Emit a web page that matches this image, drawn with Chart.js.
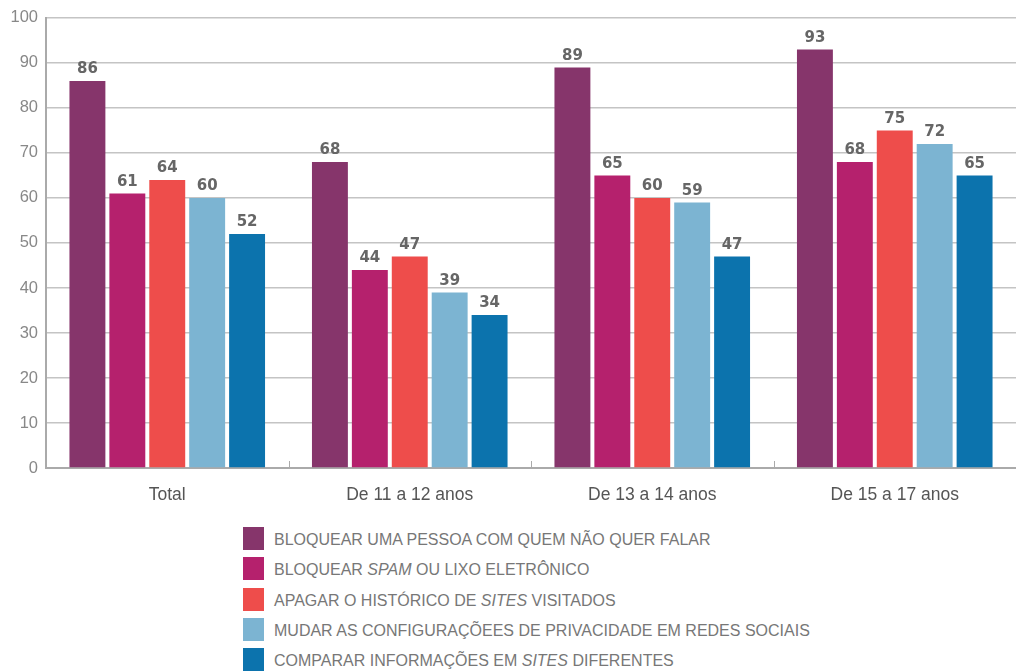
<!DOCTYPE html>
<html>
<head>
<meta charset="utf-8">
<script src="https://cdn.jsdelivr.net/npm/chart.js@4"></script>
<style>
  body { margin: 0; background: #fff; }
  #wrap { position: relative; width: 1016px; height: 671px; }
  #chartBox { position: absolute; left: 0; top: 0; width: 1016px; height: 510px; }
  #legend { position: absolute; left: 243px; top: 527px; font-family: "Liberation Sans", Arial, sans-serif; font-size: 16px; color: #777; white-space: nowrap; }
  .row { height: 30.3px; display: flex; align-items: flex-start; }
  .sw { width: 21px; height: 23px; margin-right: 10px; }
  .row span.t { line-height: 25px; }
</style>
</head>
<body>
<div id="wrap">
  <div id="chartBox"><canvas id="chart"></canvas></div>
  <div id="legend"></div>
</div>
<script>
const categories = ['Total', 'De 11 a 12 anos', 'De 13 a 14 anos', 'De 15 a 17 anos']
const seriesNames = [
  'BLOQUEAR UMA PESSOA COM QUEM NÃO QUER FALAR',
  'BLOQUEAR <i>SPAM</i> OU LIXO ELETRÔNICO',
  'APAGAR O HISTÓRICO DE <i>SITES</i> VISITADOS',
  'MUDAR AS CONFIGURAÇÕEES DE PRIVACIDADE EM REDES SOCIAIS',
  'COMPARAR INFORMAÇÕES EM <i>SITES</i> DIFERENTES'
]
const colors = ['#86356b', '#b5216d', '#ee4d4b', '#7cb4d2', '#0c73ad']
const bloquearPessoa = [86, 68, 89, 93]
const bloquearSpam = [61, 44, 65, 68]
const apagarHistorico = [64, 47, 60, 75]
const mudarPrivacidade = [60, 39, 59, 72]
const compararInfo = [52, 34, 47, 65]
const seriesValues = [bloquearPessoa, bloquearSpam, apagarHistorico, mudarPrivacidade, compararInfo]

const tickFont = '"Liberation Sans", Arial, sans-serif'

const valueLabels = {
  id: 'valueLabels',
  afterDatasetsDraw(chart) {
    const ctx = chart.ctx
    ctx.save()
    ctx.font = 'bold 15px "DejaVu Sans", sans-serif'
    ctx.fillStyle = '#666'
    ctx.textAlign = 'center'
    ctx.textBaseline = 'bottom'
    chart.data.datasets.forEach((ds, i) => {
      chart.getDatasetMeta(i).data.forEach((bar, j) => {
        ctx.fillText(ds.data[j], bar.x, bar.y - 4)
      })
    })
    ctx.restore()
  }
}

// small inward ticks between categories
const catTicks = {
  id: 'catTicks',
  afterDraw(chart) {
    const x = chart.scales.x
    const ctx = chart.ctx
    ctx.save()
    ctx.strokeStyle = '#aaa'
    ctx.lineWidth = 1
    for (let i = 1; i < categories.length; i++) {
      const px = Math.round((x.getPixelForValue(i - 1) + x.getPixelForValue(i)) / 2) + 0.5
      ctx.beginPath()
      ctx.moveTo(px, x.top)
      ctx.lineTo(px, x.top - 7)
      ctx.stroke()
    }
    ctx.restore()
  }
}

new Chart(document.getElementById('chart'), {
  type: 'bar',
  data: {
    labels: categories,
    datasets: seriesValues.map((vals, i) => ({
      label: seriesNames[i].replace(/<\/?i>/g, ''),
      data: vals,
      backgroundColor: colors[i],
      barPercentage: 0.9,
      categoryPercentage: 0.823
    }))
  },
  options: {
    responsive: true,
    maintainAspectRatio: false,
    animation: false,
    layout: { padding: { top: 7, right: 0, left: 0, bottom: 0 } },
    plugins: { legend: { display: false }, tooltip: { enabled: false } },
    scales: {
      x: {
        grid: { display: false },
        border: { color: '#aaa', width: 2 },
        ticks: { color: '#555', font: { family: tickFont, size: 17.5 }, padding: 9 },
        afterFit(s) { s.height = 42 }
      },
      y: {
        min: 0, max: 100,
        ticks: { stepSize: 10, color: '#888', font: { family: tickFont, size: 16.5 }, padding: 8 },
        grid: { color: '#c4c4c4', lineWidth: 1.5, drawTicks: false },
        border: { color: '#aaa', width: 2 },
        afterFit(s) { s.width = 46 }
      }
    }
  },
  plugins: [valueLabels, catTicks]
})

const legend = document.getElementById('legend')
seriesNames.forEach((name, i) => {
  const row = document.createElement('div')
  row.className = 'row'
  row.innerHTML = '<div class="sw" style="background:' + colors[i] + '"></div><span class="t">' + name + '</span>'
  legend.appendChild(row)
})
</script>
</body>
</html>
